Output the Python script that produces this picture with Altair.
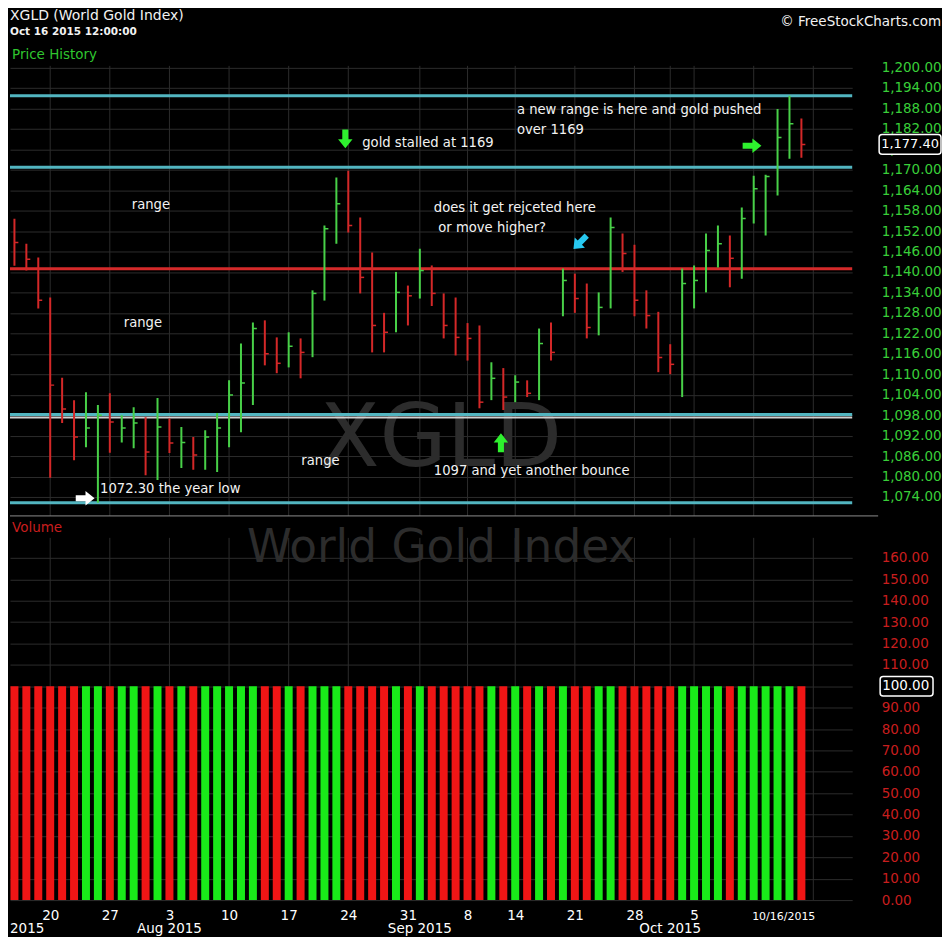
import altair as alt
import pandas as pd

# ---------------- data ----------------
dates = ["2015-07-14", "2015-07-15", "2015-07-16", "2015-07-17",
         "2015-07-20", "2015-07-21", "2015-07-22", "2015-07-23", "2015-07-24",
         "2015-07-27", "2015-07-28", "2015-07-29", "2015-07-30", "2015-07-31",
         "2015-08-03", "2015-08-04", "2015-08-05", "2015-08-06", "2015-08-07",
         "2015-08-10", "2015-08-11", "2015-08-12", "2015-08-13", "2015-08-14",
         "2015-08-17", "2015-08-18", "2015-08-19", "2015-08-20", "2015-08-21",
         "2015-08-24", "2015-08-25", "2015-08-26", "2015-08-27", "2015-08-28",
         "2015-08-31", "2015-09-01", "2015-09-02", "2015-09-03", "2015-09-04",
         "2015-09-08", "2015-09-09", "2015-09-10", "2015-09-11",
         "2015-09-14", "2015-09-15", "2015-09-16", "2015-09-17", "2015-09-18",
         "2015-09-21", "2015-09-22", "2015-09-23", "2015-09-24", "2015-09-25",
         "2015-09-28", "2015-09-29", "2015-09-30", "2015-10-01", "2015-10-02",
         "2015-10-05", "2015-10-06", "2015-10-07", "2015-10-08", "2015-10-09",
         "2015-10-12", "2015-10-13", "2015-10-14", "2015-10-15", "2015-10-16"]

highs = [1160.3, 1155.6, 1148.3, 1144.2,
         1132.5, 1109.0, 1102.4, 1104.7, 1101.0,
         1104.4, 1098.0, 1100.3, 1097.4, 1103.0,
         1097.0, 1094.5, 1091.6, 1093.6, 1098.6,
         1108.2, 1119.0, 1125.2, 1125.8, 1120.8,
         1122.3, 1120.5, 1134.6, 1153.6, 1167.7,
         1169.7, 1156.0, 1145.7, 1128.0, 1140.0,
         1136.0, 1146.8, 1141.9, 1133.7, 1132.5,
         1125.0, 1124.3, 1113.5, 1111.8,
         1109.7, 1108.2, 1123.4, 1125.2, 1141.0,
         1139.5, 1136.6, 1134.0, 1156.0, 1151.3,
         1148.0, 1134.6, 1128.3, 1118.8, 1141.0,
         1141.9, 1151.3, 1153.6, 1150.7, 1158.9,
         1168.2, 1168.5, 1187.8, 1191.7, 1185.0]

lows = [1152.0, 1141.8, 1140.4, 1129.3,
        1079.6, 1095.7, 1084.8, 1088.6, 1072.3,
        1087.0, 1090.0, 1088.3, 1080.4, 1079.0,
        1086.9, 1082.5, 1082.0, 1082.0, 1081.3,
        1088.6, 1093.0, 1101.0, 1112.6, 1110.3,
        1112.0, 1108.8, 1115.0, 1131.6, 1148.3,
        1151.6, 1133.7, 1116.4, 1116.4, 1122.3,
        1124.3, 1132.2, 1130.0, 1120.5, 1115.5,
        1114.0, 1100.0, 1102.4, 1099.5,
        1101.8, 1103.3, 1102.4, 1114.0, 1127.0,
        1128.0, 1120.5, 1121.4, 1129.3, 1140.0,
        1127.0, 1123.4, 1110.6, 1110.0, 1103.3,
        1129.3, 1134.0, 1141.3, 1135.5, 1138.0,
        1154.2, 1150.7, 1162.4, 1173.2, 1173.5]

closes = [1154.2, 1148.6, 1143.7, 1131.7,
          1106.8, 1099.8, 1091.6, 1094.2, 1098.0,
          1096.0, 1094.2, 1095.7, 1087.2, 1094.5,
          1089.8, 1090.0, 1086.3, 1091.6, 1094.2,
          1103.9, 1107.4, 1123.4, 1116.0, 1113.2,
          1118.2, 1116.4, 1133.7, 1152.7, 1160.0,
          1153.6, 1138.4, 1124.3, 1122.3, 1134.0,
          1133.0, 1140.4, 1133.7, 1124.3, 1120.8,
          1120.5, 1101.8, 1108.8, 1103.3,
          1107.7, 1104.4, 1119.0, 1116.4, 1137.5,
          1132.2, 1123.7, 1129.6, 1153.0, 1145.4,
          1131.7, 1127.2, 1114.9, 1112.9, 1136.6,
          1137.5, 1146.3, 1148.3, 1144.0, 1155.7,
          1164.4, 1168.0, 1179.4, 1183.5, 1177.4]

dirs = ["down", "down", "down", "down",
        "down", "down", "down", "up", "up",
        "down", "up", "up", "down", "up",
        "down", "up", "down", "up", "up",
        "up", "up", "up", "down", "down",
        "up", "down", "up", "up", "up",
        "down", "down", "down", "down", "up",
        "down", "up", "down", "down", "down",
        "down", "down", "up", "down",
        "up", "down", "up", "down", "up",
        "down", "down", "up", "up", "down",
        "down", "down", "down", "down", "up",
        "up", "up", "up", "down", "up",
        "up", "up", "up", "up", "down"]

volumes = [100, 100, 100, 100,
           100, 100, 100, 100, 100,
           100, 100, 100, 100, 100,
           100, 100, 100, 100, 100,
           100, 100, 100, 100, 100,
           100, 100, 100, 100, 100,
           100, 100, 100, 100, 100,
           100, 100, 100, 100, 100,
           100, 100, 100, 100,
           100, 100, 100, 100, 100,
           100, 100, 100, 100, 100,
           100, 100, 100, 100, 100,
           100, 100, 100, 100, 100,
           100, 100, 100, 100, 100]

price_ticks = [1074, 1080, 1086, 1092, 1098, 1104, 1110, 1116, 1122, 1128, 1134,
               1140, 1146, 1152, 1158, 1164, 1170, 1176, 1182, 1188, 1194, 1200]
volume_ticks = [0, 10, 20, 30, 40, 50, 60, 70, 80, 90, 100, 110, 120, 130, 140, 150, 160]

tick_idx = [4, 9, 14, 19, 24, 29, 34, 39, 43, 48, 53, 58]
tick_labels = ["20", "27", "3", "10", "17", "24", "31", "8", "14", "21", "28", "5"]
grid_idx = [4, 9, 14, 19, 24, 29, 35, 39, 43, 48, 53, 56, 58, 63, 68]

month_idx = [14, 35, 56]
month_labels = ["Aug 2015", "Sep 2015", "Oct 2015"]

level_names = ["new top", "range top", "pivot", "support", "bounce", "year low"]
level_values = [1191.7, 1170.7, 1140.9, 1098.2, 1097.3, 1072.3]

notes_text = ["range", "range", "range", "1072.30 the year low", "gold stalled at 1169",
              "a new range is here and gold pushed", "over 1169",
              "does it get rejceted here", " or move higher?", "1097 and yet another bounce"]
notes_i = [10.84, 10.17, 25.06, 8.18, 30.17, 43.14, 43.14, 36.17, 36.55, 36.17]
notes_p = [1159.5, 1124.9, 1084.5, 1076.3, 1177.8, 1187.5, 1181.7, 1158.7, 1152.8, 1081.7]

arrow_i = [28.75, 48.44, 41.8, 62.86, 6.93]
arrow_p = [1179.0, 1148.7, 1089.9, 1177.0, 1073.6]
arrow_dir = ["down", "downleft", "up", "right", "right"]
arrow_tone = ["green", "cyan", "green", "green", "white"]

# ---------------- layout / styling ----------------
FONT = "DejaVu Sans"
W, HP, HV = 844, 476, 385
XDOM = [0.628, 71.26]
GRID = "#2c2c2c"
ps = alt.Scale(domain=[1068.44, 1207.76], nice=False, zero=False)
vs = alt.Scale(domain=[0, 179.66], nice=False, zero=False)

LEVEL_STYLE = {"new top": ("#52b5c0", 3), "range top": ("#52b5c0", 3), "pivot": ("#d42a2a", 3),
               "support": ("#52b5c0", 3), "bounce": ("#cfcfcf", 2), "year low": ("#52b5c0", 3)}
ARROW_ANGLE = {"down": 0, "downleft": 45, "up": 180, "right": 270}
ARROW_COLOR = {"green": "#2ef02e", "cyan": "#27c8f0", "white": "#ffffff"}

df = pd.DataFrame({"i": list(range(len(dates))), "date": dates, "high": highs, "low": lows,
                   "close": closes, "dir": dirs, "volume": volumes})

price_axis = alt.Axis(orient="right", values=price_ticks, format=",.2f", labelColor="#39cf39",
                      labelFont=FONT, labelFontSize=13.5, labelAlign="left", labelPadding=29,
                      labelBaseline="middle", ticks=False, domain=False, grid=True,
                      gridColor=GRID, gridWidth=1, title=None, labelOverlap=False)
vol_axis = alt.Axis(orient="right", values=volume_ticks, format=".2f", labelColor="#c81e1e",
                    labelFont=FONT, labelFontSize=13.5, labelAlign="left", labelPadding=29,
                    labelBaseline="middle", ticks=False, domain=False, grid=True,
                    gridColor=GRID, gridWidth=1, title=None, labelOverlap=False)
label_expr = "[" + ",".join("'%s'" % t for t in tick_labels) + "][indexof([" + \
    ",".join(str(t) for t in tick_idx) + "], datum.value)]"
vx_axis = alt.Axis(orient="bottom", values=tick_idx, labelExpr=label_expr, labelColor="#ffffff",
                   labelFont=FONT, labelFontSize=13.5, labelPadding=8, ticks=False, domain=False,
                   grid=False, title=None, labelFlush=False, labelOverlap=False)


def PX(f):
    return alt.X(f, type="quantitative", scale=alt.Scale(domain=XDOM, nice=False, zero=False, padding=0),
                 axis=None)


def PY(f):
    return alt.Y(f, type="quantitative", scale=ps, axis=price_axis)


def VX(f):
    return alt.X(f, type="quantitative", scale=alt.Scale(domain=XDOM, nice=False, zero=False, padding=0),
                 axis=vx_axis)


def VY(f):
    return alt.Y(f, type="quantitative", scale=vs, axis=vol_axis)


arrow_path = "M-0.42,-1.3L0.42,-1.3L0.42,0.05L1,0.05L0,1.3L-1,0.05L-0.42,0.05Z"

# ---------------- price panel ----------------
grid_df = pd.DataFrame({"g": grid_idx})
p_vgrid = alt.Chart(grid_df).mark_rule(color=GRID, strokeWidth=1).encode(
    x=PX("g"), y=alt.value(25), y2=alt.value(HP))

p_mark = alt.Chart(pd.DataFrame({"t": ["XGLD"], "i": [36.78], "p": [1090.7]})).mark_text(
    font=FONT, fontSize=87, color="#2c2c2c", baseline="middle").encode(
    x=PX("i"), y=PY("p"), text="t:N")

lev_df = pd.DataFrame({"name": level_names, "v": level_values})
level_layers = []
for nm in level_names:
    col, sw = LEVEL_STYLE[nm]
    level_layers.append(
        alt.Chart(lev_df[lev_df["name"] == nm]).mark_rule(color=col, strokeWidth=sw).encode(
            y=PY("v"), x=alt.value(0), x2=alt.value(W)))

pcolor = alt.Color("dir:N", legend=None,
                   scale=alt.Scale(domain=["up", "down"], range=["#48d048", "#d42828"]))
hl = alt.Chart(df).mark_rule(strokeWidth=2, clip=True).encode(
    x=PX("i"), y=PY("low"), y2=alt.Y2("high"), color=pcolor)
ck = alt.Chart(df).transform_calculate(ir="datum.i + 0.33").mark_rule(
    strokeWidth=1.5, clip=True).encode(
    x=PX("i"), x2=alt.X2("ir"), y=PY("close"), color=pcolor)

notes = alt.Chart(pd.DataFrame({"t": notes_text, "i": notes_i, "p": notes_p})).mark_text(
    font=FONT, fontSize=13.2, color="#f2f2f2", align="left", baseline="middle").encode(
    x=PX("i"), y=PY("p"), text="t:N")

arr_df = pd.DataFrame({"i": arrow_i, "p": arrow_p, "d": arrow_dir, "tone": arrow_tone})
arrow_layers = []
for (d, tone), sub in arr_df.groupby(["d", "tone"]):
    arrow_layers.append(
        alt.Chart(sub).mark_point(shape=arrow_path, filled=True, opacity=1, strokeWidth=0, size=210,
                                  angle=ARROW_ANGLE[d], color=ARROW_COLOR[tone]).encode(
            x=PX("i"), y=PY("p")))

head1 = alt.Chart(pd.DataFrame({"t": ["XGLD (World Gold Index)"]})).mark_text(
    font=FONT, fontSize=14, color="#f2f2f2", align="left", baseline="top").encode(
    x=alt.value(0), y=alt.value(-32), text="t:N")
head2 = alt.Chart(pd.DataFrame({"t": ["Oct 16 2015 12:00:00"]})).mark_text(
    font=FONT, fontSize=10.5, fontWeight="bold", color="#f2f2f2", align="left", baseline="middle").encode(
    x=alt.value(0), y=alt.value(-9), text="t:N")
head3 = alt.Chart(pd.DataFrame({"t": ["© FreeStockCharts.com"]})).mark_text(
    font=FONT, fontSize=13.5, color="#f2f2f2", align="right", baseline="middle").encode(
    x=alt.value(933), y=alt.value(-19), text="t:N")
head4 = alt.Chart(pd.DataFrame({"t": ["Price History"]})).mark_text(
    font=FONT, fontSize=13.5, color="#2fc62f", align="left", baseline="middle").encode(
    x=alt.value(2), y=alt.value(14), text="t:N")

last = df.tail(1)
p_box = alt.Chart(last).transform_calculate(lo="datum.close - 2.9", hi="datum.close + 2.9").mark_rect(
    fill="#000000", stroke="#ffffff", strokeWidth=1.5, cornerRadius=3).encode(
    x=alt.value(871), x2=alt.value(933), y=PY("lo"), y2=alt.Y2("hi"))
p_box_t = alt.Chart(last).mark_text(font=FONT, fontSize=13, color="#ffffff", align="left",
                                     baseline="middle").encode(
    x=alt.value(873), y=PY("close"), text=alt.Text("close:Q", format=",.2f"))

p_base = alt.Chart(pd.DataFrame({"t": ["base"]})).mark_rule(color="#8c8c8c", strokeWidth=1).encode(
    x=alt.value(0), x2=alt.value(870), y=alt.value(HP))

price = alt.layer(p_vgrid, p_mark, *level_layers, hl, ck, notes, *arrow_layers,
                  head1, head2, head3, head4, p_base, p_box, p_box_t).properties(
    width=W, height=HP).resolve_scale(color="independent")

# ---------------- volume panel ----------------
v_vgrid = alt.Chart(grid_df).mark_rule(color=GRID, strokeWidth=1).encode(
    x=VX("g"), y=alt.value(22), y2=alt.value(HV))
v_mark = alt.Chart(pd.DataFrame({"t": ["World Gold Index"], "i": [36.78], "v": [164.7]})).mark_text(
    font=FONT, fontSize=45.5, color="#2c2c2c", baseline="middle").encode(
    x=VX("i"), y=VY("v"), text="t:N")
vbars = alt.Chart(df).mark_bar(width=8, clip=True).encode(
    x=VX("i"), y=VY("volume"),
    color=alt.Color("dir:N", legend=None,
                    scale=alt.Scale(domain=["up", "down"], range=["#19ea19", "#f01515"])))
v_label = alt.Chart(pd.DataFrame({"t": ["Volume"]})).mark_text(
    font=FONT, fontSize=13.5, color="#c81e1e", align="left", baseline="middle").encode(
    x=alt.value(2), y=alt.value(12), text="t:N")
months = alt.Chart(pd.DataFrame({"i": month_idx, "t": month_labels})).mark_text(
    font=FONT, fontSize=13.5, color="#ffffff", baseline="middle").encode(
    x=VX("i"), y=alt.value(HV + 29), text="t:N")
month0 = alt.Chart(pd.DataFrame({"t": ["2015"]})).mark_text(
    font=FONT, fontSize=13.5, color="#ffffff", align="left", baseline="middle").encode(
    x=alt.value(0), y=alt.value(HV + 29), text="t:N")
lastdate = alt.Chart(pd.DataFrame({"i": [67], "t": ["10/16/2015"]})).mark_text(
    font=FONT, fontSize=11, color="#ffffff", align="right", baseline="middle", dx=14).encode(
    x=VX("i"), y=alt.value(HV + 17), text="t:N")
v_box = alt.Chart(last).transform_calculate(lo="datum.volume - 4.6", hi="datum.volume + 4.6").mark_rect(
    fill="#000000", stroke="#ffffff", strokeWidth=1.5, cornerRadius=3).encode(
    x=alt.value(872), x2=alt.value(925), y=VY("lo"), y2=alt.Y2("hi"))
v_box_t = alt.Chart(last).mark_text(font=FONT, fontSize=13.5, color="#ffffff", align="left",
                                     baseline="middle").encode(
    x=alt.value(874), y=VY("volume"), text=alt.Text("volume:Q", format=".2f"))

volume = alt.layer(v_vgrid, v_mark, vbars, v_label, months, month0, lastdate, v_box, v_box_t).properties(
    width=W, height=HV)

chart = alt.vconcat(price, volume, spacing=0, bounds="flush").properties(
    padding=0, background="#000000").configure_view(stroke=None).resolve_scale(color="independent")

chart.save("out.html", embed_options={"renderer": "svg", "actions": False})
